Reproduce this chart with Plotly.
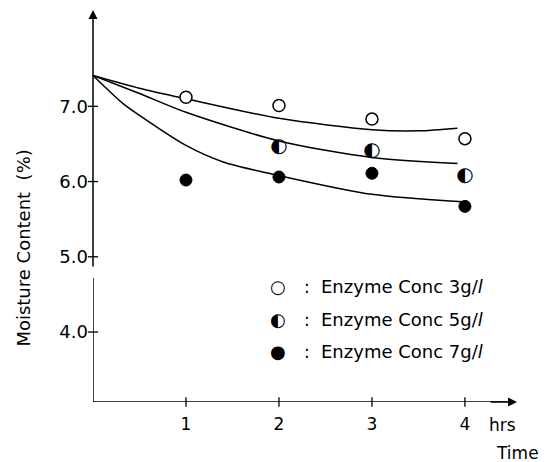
import plotly.graph_objects as go

# ---- data ----
time_pts = [1, 2, 3, 4]
conc3 = [7.12, 7.01, 6.83, 6.57]
conc5 = [None, 6.46, 6.41, 6.08]
conc7 = [6.02, 6.06, 6.11, 5.67]

curve3_x = [0, 0.5, 1, 2, 3, 3.5, 3.92]
curve3_y = [7.41, 7.24, 7.10, 6.84, 6.69, 6.675, 6.71]
curve5_x = [0, 0.5, 1, 2, 3, 3.92]
curve5_y = [7.41, 7.17, 6.92, 6.54, 6.32, 6.24]
curve7_x = [0, 0.32, 0.5, 1, 1.4, 2, 3, 3.97]
curve7_y = [7.41, 7.04, 6.88, 6.48, 6.26, 6.08, 5.83, 5.73]

x_ticks = [1, 2, 3, 4]
x_tick_labels = ["1", "2", "3", "4"]
y_ticks = [4.0, 5.0, 6.0, 7.0]
y_tick_labels = ["4.0", "5.0", "6.0", "7.0"]

legend_labels = [
    "Enzyme Conc 3g/<i>l</i>",
    "Enzyme Conc 5g/<i>l</i>",
    "Enzyme Conc 7g/<i>l</i>",
]
legend_glyphs = ["○", "◐", "●"]

X_MIN, X_MAX = 0, 4.56
Y_MIN, Y_MAX = 3.07, 8.28
BREAK_LO, BREAK_HI = 4.72, 4.85

FONT = "DejaVu Sans"
INK = "black"

fig = go.Figure()

for cx, cy in [(curve3_x, curve3_y), (curve5_x, curve5_y), (curve7_x, curve7_y)]:
    fig.add_trace(go.Scatter(x=cx, y=cy, mode="lines",
                             line=dict(color=INK, width=1.5, shape="spline", smoothing=0.8),
                             hoverinfo="skip", showlegend=False))

fig.add_trace(go.Scatter(x=time_pts, y=conc3, mode="markers",
                         marker=dict(symbol="circle", size=12, color="white",
                                     line=dict(color=INK, width=1.5)),
                         showlegend=False))
fig.add_trace(go.Scatter(x=time_pts, y=conc7, mode="markers",
                         marker=dict(symbol="circle", size=12, color=INK,
                                     line=dict(color=INK, width=1)),
                         showlegend=False))
fig.add_trace(go.Scatter(x=time_pts, y=conc5, mode="text", text=["◐"] * len(time_pts),
                         textposition="middle center",
                         textfont=dict(family=FONT, size=20, color=INK),
                         showlegend=False))

shapes = []
# axis lines (y axis has a small break)
shapes.append(dict(type="line", xref="x", yref="y", x0=0, x1=0, y0=Y_MIN, y1=BREAK_LO,
                   line=dict(color=INK, width=1.5)))
shapes.append(dict(type="line", xref="x", yref="y", x0=0, x1=X_MAX - 0.1, y0=Y_MIN, y1=Y_MIN,
                   line=dict(color=INK, width=1.5)))
# tick crosses
for t in x_ticks:
    shapes.append(dict(type="line", xref="x", yref="paper", x0=t, x1=t, y0=-0.012, y1=0.012,
                       line=dict(color=INK, width=1.3)))
for t in y_ticks:
    shapes.append(dict(type="line", xref="paper", yref="y", x0=-0.012, x1=0.012, y0=t, y1=t,
                       line=dict(color=INK, width=1.3)))

annotations = []
# arrowed upper y-axis segment and x-axis arrowhead
annotations.append(dict(x=0, y=Y_MAX, ax=0, ay=BREAK_HI, xref="x", yref="y", axref="x", ayref="y",
                        text="", showarrow=True, arrowhead=2, arrowsize=1.2, arrowwidth=1.5,
                        arrowcolor=INK))
annotations.append(dict(x=X_MAX, y=Y_MIN, ax=X_MAX - 0.3, ay=Y_MIN, xref="x", yref="y",
                        axref="x", ayref="y", text="", showarrow=True, arrowhead=2,
                        arrowsize=1.2, arrowwidth=1.5, arrowcolor=INK))

# axis titles
annotations.append(dict(x=-0.193, y=0.393, xref="paper", yref="paper", text="Moisture Content  (%)",
                        textangle=-90, showarrow=False, font=dict(family=FONT, size=18, color=INK)))
annotations.append(dict(x=0.93, y=-0.089, xref="paper", yref="paper", text="hrs",
                        showarrow=False, xanchor="left", font=dict(family=FONT, size=17, color=INK)))
annotations.append(dict(x=0.945, y=-0.160, xref="paper", yref="paper", text="Time",
                        showarrow=False, xanchor="left", font=dict(family=FONT, size=17, color=INK)))

# legend block
row_y = [0.263, 0.179, 0.097]
for g, lab, ry in zip(legend_glyphs, legend_labels, row_y):
    annotations.append(dict(x=0.436, y=ry, xref="paper", yref="paper", text=g, showarrow=False,
                            font=dict(family=FONT, size=18, color=INK)))
    annotations.append(dict(x=0.505, y=ry, xref="paper", yref="paper", text=":", showarrow=False,
                            font=dict(family=FONT, size=17, color=INK)))
    annotations.append(dict(x=0.532, y=ry, xref="paper", yref="paper", text=lab, showarrow=False,
                            xanchor="left", font=dict(family=FONT, size=18, color=INK)))

# the page body adds an 8px offset, so the figure is sized to fit the window
fig.update_layout(
    width=541, height=454,
    margin=dict(l=85, r=32, t=2, b=60, autoexpand=False),
    paper_bgcolor="white", plot_bgcolor="white",
    showlegend=False,
    shapes=shapes, annotations=annotations,
    xaxis=dict(range=[X_MIN, X_MAX], showgrid=False, zeroline=False, showline=False,
               tickvals=x_ticks, ticktext=x_tick_labels, ticks="", ticklabelstandoff=10,
               automargin=False, tickfont=dict(family=FONT, size=17, color=INK)),
    yaxis=dict(range=[Y_MIN, Y_MAX], showgrid=False, zeroline=False, showline=False,
               tickvals=y_ticks, ticktext=y_tick_labels, ticks="", ticklabelstandoff=4,
               automargin=False, tickfont=dict(family=FONT, size=18, color=INK)),
)

fig.write_html("out.html")
